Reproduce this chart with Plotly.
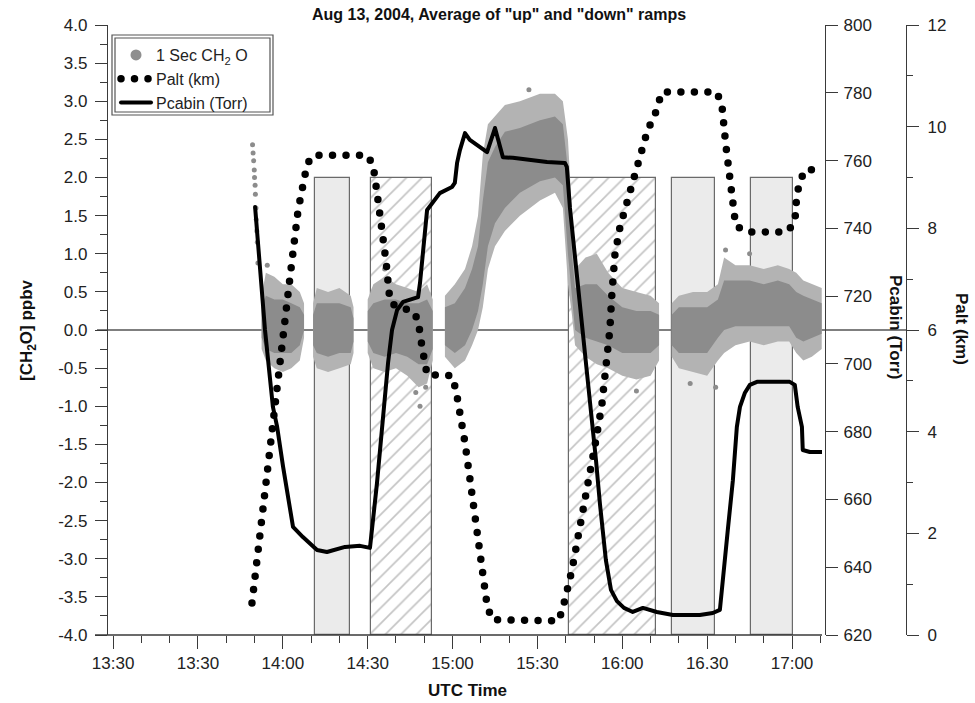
import plotly.graph_objects as go

# ---------------- data (time = minutes after 13:00 UTC) ----------------
# shaded comparison boxes
box_start = [71.4, 91.2, 161.0, 197.5, 225.4]
box_end = [83.7, 112.7, 191.9, 212.7, 240.3]
box_hatched = [False, True, True, False, False]
box_bottom = -4.0
box_top = 2.0

# 1 s CH2O cloud: envelopes (outer fringe and dense core)
streak_t = [49.3, 49.5, 49.7, 49.9, 50.0, 50.2, 50.3, 50.5, 50.6, 50.8, 51.0, 51.2]
streak_v = [2.43, 2.32, 2.22, 2.1, 2.0, 1.9, 1.78, 1.6, 1.45, 1.3, 1.15, 0.88]

segB_t = [52.5, 54.0, 57.0, 60.0, 63.0, 66.0, 67.5]
segB_out_hi = [0.45, 0.75, 0.7, 0.6, 0.6, 0.5, 0.35]
segB_out_lo = [-0.25, -0.4, -0.5, -0.55, -0.5, -0.4, -0.1]
segB_core_hi = [0.3, 0.45, 0.4, 0.4, 0.35, 0.3, 0.2]
segB_core_lo = [-0.1, -0.25, -0.3, -0.3, -0.3, -0.2, 0.0]

segC_t = [70.7, 72.0, 76.0, 80.0, 84.0, 85.0]
segC_out_hi = [0.35, 0.55, 0.5, 0.55, 0.45, 0.3]
segC_out_lo = [-0.35, -0.5, -0.55, -0.5, -0.45, -0.3]
segC_core_hi = [0.2, 0.35, 0.35, 0.35, 0.3, 0.15]
segC_core_lo = [-0.2, -0.3, -0.35, -0.3, -0.3, -0.15]

segD_t = [90.0, 92.0, 96.0, 100.0, 104.0, 108.0, 111.0, 113.0]
segD_out_hi = [0.4, 0.6, 0.7, 0.6, 0.55, 0.5, 0.6, 0.4]
segD_out_lo = [-0.3, -0.5, -0.55, -0.5, -0.6, -0.75, -0.7, -0.4]
segD_core_hi = [0.25, 0.35, 0.4, 0.4, 0.35, 0.35, 0.4, 0.25]
segD_core_lo = [-0.15, -0.3, -0.35, -0.3, -0.35, -0.45, -0.45, -0.25]

segE_t = [117.3, 120.8, 124.4, 126.9, 129.0, 130.7, 132.5, 135.0, 138.5, 143.8, 150.9,
          156.2, 159.0, 160.8, 162.2, 163.3, 167.0, 171.0, 175.0, 180.0, 185.0, 190.0, 193.0]
segE_out_hi = [0.45, 0.6, 0.8, 1.1, 1.5, 2.3, 2.7, 2.8, 2.95, 3.0, 3.1,
               3.1, 3.0, 2.5, 1.6, 0.8, 0.95, 1.0, 0.75, 0.55, 0.5, 0.45, 0.35]
segE_out_lo = [-0.35, -0.5, -0.4, -0.2, 0.0, 0.3, 0.8, 1.1, 1.3, 1.5, 1.7,
               1.8, 1.6, 0.6, 0.2, -0.2, -0.35, -0.45, -0.5, -0.6, -0.65, -0.6, -0.4]
segE_core_hi = [0.3, 0.35, 0.55, 0.8, 1.1, 1.7, 2.2, 2.4, 2.6, 2.65, 2.75,
                2.8, 2.7, 2.1, 1.0, 0.55, 0.6, 0.6, 0.45, 0.3, 0.25, 0.25, 0.2]
segE_core_lo = [-0.2, -0.3, -0.2, 0.0, 0.25, 0.6, 1.1, 1.4, 1.6, 1.8, 1.95,
                2.0, 1.9, 1.0, 0.4, 0.0, -0.1, -0.15, -0.2, -0.3, -0.3, -0.3, -0.2]

segH_t = [197.5, 200.0, 205.0, 210.0, 213.8, 216.0, 220.0, 225.0, 230.0, 235.0, 239.0,
          241.5, 244.0, 247.0, 250.5]
segH_out_hi = [0.35, 0.45, 0.5, 0.5, 0.6, 0.95, 0.85, 0.85, 0.8, 0.85, 0.8,
               0.75, 0.65, 0.6, 0.55]
segH_out_lo = [-0.35, -0.5, -0.55, -0.6, -0.4, -0.3, -0.2, -0.15, -0.2, -0.15, -0.15,
               -0.3, -0.4, -0.35, -0.25]
segH_core_hi = [0.2, 0.3, 0.3, 0.3, 0.4, 0.65, 0.65, 0.65, 0.6, 0.65, 0.6,
                0.5, 0.45, 0.4, 0.35]
segH_core_lo = [-0.2, -0.3, -0.3, -0.3, -0.1, 0.0, 0.05, 0.05, 0.05, 0.05, 0.05,
                -0.1, -0.15, -0.1, -0.05]

outlier_t = [54.5, 96.0, 107.0, 108.5, 110.5, 185.0, 204.0, 213.0, 216.5, 225.0, 147.0]
outlier_v = [0.85, 0.8, -0.82, -1.0, -0.75, -0.8, -0.7, -0.75, 1.05, 1.0, 3.15]

# aircraft altitude (km)
palt_t = [49.1, 52.3, 55.8, 59.4, 62.5, 65.4, 67.1, 68.2, 69.6, 71.0, 89.8, 91.9, 93.3,
          94.7, 96.5, 97.9, 101.1, 105.7, 107.8, 109.2, 111.0, 119.8, 121.2, 124.4, 127.9,
          130.7, 132.2, 133.9, 157.6, 159.7, 162.2, 165.0, 167.8, 170.7, 172.8, 174.6,
          175.6, 176.3, 177.4, 179.2, 182.0, 184.5, 186.9, 189.0, 191.5, 194.0, 213.4,
          215.2, 216.6, 217.7, 218.7, 220.1, 224.0, 238.2, 241.0, 241.7, 242.8, 244.5, 248.8]
palt_km = [0.63, 2.22, 3.84, 5.45, 7.02, 8.36, 8.89, 9.15, 9.38, 9.44, 9.44, 9.25, 8.70,
           8.16, 7.34, 6.55, 6.43, 6.39, 6.20, 5.67, 5.12, 5.10, 4.82, 3.78, 2.42,
           1.12, 0.59, 0.30, 0.28, 0.69, 1.28, 2.12, 2.89, 3.84, 4.54, 5.33,
           6.00, 6.69, 7.48, 8.03, 8.56, 9.09, 9.60, 9.94, 10.23, 10.68, 10.68,
           10.43, 9.64, 9.11, 8.58, 8.05, 7.93, 7.93, 8.12, 8.66, 8.91, 9.15, 9.15]

# cabin pressure (Torr)
pcab_t = [50.2, 53.7, 56.5, 58.0, 60.1, 62.5, 63.6, 67.1, 72.1, 75.6, 82.0, 87.3, 90.8,
          93.3, 95.4, 97.2, 98.6, 100.4, 102.5, 107.8, 108.5, 109.5, 111.0, 115.5, 119.8,
          120.8, 121.6, 122.6, 124.4, 126.1, 129.7, 132.2, 135.0, 137.8, 141.3, 153.4,
          159.7, 160.4, 161.5, 163.6, 165.4, 167.5, 169.6, 170.7, 172.1, 174.2, 176.0,
          178.1, 180.6, 183.7, 187.3, 192.2, 197.9, 207.4, 212.0, 214.5, 217.3, 219.1,
          220.5, 221.6, 223.3, 225.1, 227.6, 239.2, 241.0, 242.0, 243.5, 243.8, 246.3, 250.9]
pcab_torr = [746.3, 710.0, 687.3, 681.4, 669.6, 657.8, 651.9, 648.9, 645.1, 644.5, 646.0,
             646.3, 645.7, 664.9, 684.3, 700.3, 710.0, 715.9, 718.3, 719.7, 723.9, 733.6,
             745.4, 750.4, 752.2, 753.4, 759.3, 763.1, 768.1, 766.1, 764.0, 762.5, 769.6,
             761.0, 760.8, 759.6, 759.3, 758.1, 746.0, 729.5, 713.2, 696.7, 680.5, 671.6,
             658.7, 642.1, 633.3, 630.0, 628.0, 626.8, 628.0, 626.8, 625.9, 625.9, 626.5,
             627.4, 651.0, 665.7, 681.4, 687.3, 691.4, 693.8, 694.7, 694.7, 693.8, 687.3,
             681.4, 674.6, 674.0, 674.0]

x_tickvals = [0, 30, 60, 90, 120, 150, 180, 210, 240]
x_ticktext = ["13:30", "13:30", "14:00", "14:30", "15:00", "15:30", "16:00", "16.30", "17:00"]
y_ticks = [-4.0, -3.5, -3.0, -2.5, -2.0, -1.5, -1.0, -0.5, 0.0, 0.5, 1.0, 1.5, 2.0,
           2.5, 3.0, 3.5, 4.0]
pcab_ticks = [620, 640, 660, 680, 700, 720, 740, 760, 780, 800]
palt_ticks = [0, 2, 4, 6, 8, 10, 12]

# ---------------- layout geometry (pixels) ----------------
W, H = 975, 703
L, R, T, B = 108, 69, 25, 68
PW = W - L - R
PH = H - T - B
def px(x):
    return (x - L) / PW
def py(y):
    return (H - B - y) / PH

FONT = "Liberation Sans, Arial, Helvetica, sans-serif"
AX = "#3a3a3a"
CLOUD_CORE = "#8c8c8c"
CLOUD_OUT = "#b3b3b3"

fig = go.Figure()

# boxes
for hatched in (False, True):
    xs = [s for s, h in zip(box_start, box_hatched) if h == hatched]
    ws = [e - s for s, e, h in zip(box_start, box_end, box_hatched) if h == hatched]
    marker = dict(color="#ebebeb", line=dict(color="#6a6a6a", width=1.2))
    if hatched:
        marker = dict(color="white", line=dict(color="#6a6a6a", width=1.2),
                      pattern=dict(shape="/", fgcolor="#c4c4c4", bgcolor="white",
                                   size=11, solidity=0.15, fillmode="replace"))
    fig.add_trace(go.Bar(x=xs, y=[box_top - box_bottom] * len(xs), base=box_bottom,
                         width=ws, offset=0, marker=marker, showlegend=False,
                         hoverinfo="skip"))

# CH2O cloud
segments = [
    (segB_t, segB_out_hi, segB_out_lo, segB_core_hi, segB_core_lo),
    (segC_t, segC_out_hi, segC_out_lo, segC_core_hi, segC_core_lo),
    (segD_t, segD_out_hi, segD_out_lo, segD_core_hi, segD_core_lo),
    (segE_t, segE_out_hi, segE_out_lo, segE_core_hi, segE_core_lo),
    (segH_t, segH_out_hi, segH_out_lo, segH_core_hi, segH_core_lo),
]
for t, ohi, olo, chi, clo in segments:
    fig.add_trace(go.Scatter(x=t + t[::-1], y=ohi + olo[::-1], fill="toself",
                             fillcolor=CLOUD_OUT, mode="lines", line=dict(width=0),
                             showlegend=False, hoverinfo="skip"))
    fig.add_trace(go.Scatter(x=t + t[::-1], y=chi + clo[::-1], fill="toself",
                             fillcolor=CLOUD_CORE, mode="lines", line=dict(width=0),
                             showlegend=False, hoverinfo="skip"))
fig.add_trace(go.Scatter(x=streak_t + outlier_t, y=streak_v + outlier_v, mode="markers",
                         marker=dict(color=CLOUD_CORE, size=5), showlegend=False,
                         hoverinfo="skip"))
# legend entry for the cloud
fig.add_trace(go.Scatter(x=[None], y=[None], mode="markers", name="1 Sec CH<sub>2</sub> O",
                         marker=dict(color="#8f8f8f", size=11), legendrank=1))

fig.add_trace(go.Scatter(x=palt_t, y=palt_km, yaxis="y3", mode="lines", name="Palt (km)",
                         line=dict(color="black", width=7.5, dash="0px,13.5px"),
                         legendrank=2))
fig.add_trace(go.Scatter(x=pcab_t, y=pcab_torr, yaxis="y2", mode="lines",
                         name="Pcabin (Torr)", line=dict(color="black", width=4),
                         legendrank=3))

tickfont = dict(family=FONT, size=17, color="#222")
x_end = px(822)
title_font = dict(family=FONT, size=17, color="#111")
fig.update_layout(
    width=W, height=H, margin=dict(l=L, r=R, t=T, b=B),
    plot_bgcolor="white", paper_bgcolor="white",
    font=dict(family=FONT, size=17, color="#222"),
    barmode="overlay", bargap=0,
    xaxis=dict(domain=[0, x_end], range=[-1.8, 250.6], tickmode="array",
               tickvals=x_tickvals, ticktext=x_ticktext, ticks="outside", ticklen=13,
               tickcolor=AX, tickwidth=1.3, showline=False, showgrid=False,
               zeroline=False, tickfont=tickfont,
               minor=dict(tickmode="linear", tick0=0, dtick=10, ticks="outside",
                          ticklen=7, tickcolor=AX, tickwidth=1.3, showgrid=False)),
    yaxis=dict(range=[-4, 4], tickmode="array", tickvals=y_ticks,
               ticktext=[f"{v:.1f}" for v in y_ticks], ticks="outside", ticklen=12,
               tickcolor=AX, tickwidth=1.3, showline=True, linecolor=AX, linewidth=1.3,
               showgrid=False, zeroline=False, tickfont=tickfont, ticklabelstandoff=4,
               minor=dict(tickmode="linear", tick0=0, dtick=0.25, ticks="outside",
                          ticklen=7, tickcolor=AX, tickwidth=1.3, showgrid=False)),
    yaxis2=dict(overlaying="y", anchor="free", position=px(825), side="right",
                range=[620, 800], tickmode="array", tickvals=pcab_ticks, ticks="outside",
                ticklen=12, tickcolor=AX, tickwidth=1.3, showline=True, linecolor=AX,
                linewidth=1.3, showgrid=False, zeroline=False, tickfont=tickfont,
                ticklabelstandoff=2),
    yaxis3=dict(overlaying="y", anchor="free", position=1.0, side="right",
                range=[0, 12], tickmode="array", tickvals=palt_ticks, ticks="outside",
                ticklen=12, tickcolor=AX, tickwidth=1.3, showline=True, linecolor=AX,
                linewidth=1.3, showgrid=False, zeroline=False, tickfont=tickfont,
                ticklabelstandoff=5,
                minor=dict(tickmode="linear", tick0=0, dtick=1, ticks="outside",
                           ticklen=6, tickcolor=AX, tickwidth=1.3, showgrid=False)),
    legend=dict(x=px(116), y=py(38), xanchor="left", yanchor="top",
                bgcolor="rgba(0,0,0,0)", borderwidth=0, font=dict(family=FONT, size=16),
                tracegroupgap=0, itemwidth=30),
    shapes=[
        dict(type="line", xref="paper", yref="paper", x0=px(95), x1=x_end, y0=0, y1=0,
             line=dict(color=AX, width=1.3)),
        dict(type="line", xref="paper", yref="paper", x0=px(97), x1=1.0, y0=0.5, y1=0.5,
             line=dict(color="#555", width=1.5), layer="below"),
        dict(type="rect", xref="paper", yref="paper", x0=px(112), x1=px(273),
             y0=py(115), y1=py(35), line=dict(color="#555", width=1.2),
             fillcolor="white"),
        dict(type="rect", xref="paper", yref="paper", x0=px(115), x1=px(270),
             y0=py(112), y1=py(38), line=dict(color="#555", width=1.2)),
    ],
    annotations=[
        dict(text='<b>Aug 13, 2004, Average of "up" and "down" ramps</b>', xref="paper",
             yref="paper", x=px(499), y=py(14), xanchor="center", yanchor="middle",
             showarrow=False, font=dict(family=FONT, size=16, color="#111")),
        dict(text="<b>[CH<sub>2</sub>O] ppbv</b>", xref="paper", yref="paper", x=px(28),
             y=py(330), xanchor="center", yanchor="middle", textangle=-90,
             showarrow=False, font=title_font),
        dict(text="<b>UTC Time</b>", xref="paper", yref="paper", x=px(467), y=py(690),
             xanchor="center", yanchor="middle", showarrow=False, font=title_font),
        dict(text="<b>Pcabin (Torr)</b>", xref="paper", yref="paper", x=px(895),
             y=py(327), xanchor="center", yanchor="middle", textangle=90,
             showarrow=False, font=title_font),
        dict(text="<b>Palt (km)</b>", xref="paper", yref="paper", x=px(962), y=py(329),
             xanchor="center", yanchor="middle", textangle=90, showarrow=False,
             font=title_font),
    ],
)

post_js = """
var gd = document.getElementById('{plot_id}');
function fixCaps(){
  gd.querySelectorAll('path.js-line, .legendlines path').forEach(function(p){
    p.style.strokeLinecap = 'round';
    p.style.strokeLinejoin = 'round';
  });
}
fixCaps();
gd.on('plotly_afterplot', fixCaps);
"""
fig.write_html("out.html", post_script=post_js)
